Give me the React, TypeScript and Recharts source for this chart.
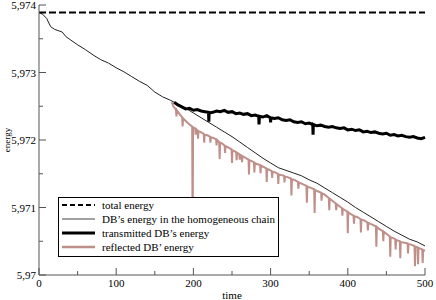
import { LineChart, Line, XAxis, YAxis, Legend } from "recharts"

const serif = "Liberation Serif"

// [time, energy]
const totalEnergy = [
  [0, 5.97389],
  [500, 5.97389],
]

const homogeneous = [
  [0, 5.97389], [5, 5.97386], [10, 5.9738], [15, 5.97368], [20, 5.97364], [30, 5.9736],
  [35, 5.97353], [40, 5.97349], [50, 5.97341], [60, 5.97334], [70, 5.97326], [80, 5.97319],
  [90, 5.97314], [100, 5.97307], [110, 5.97301], [120, 5.97294], [130, 5.97287], [140, 5.97281],
  [150, 5.97271], [160, 5.97264], [170, 5.97259], [180, 5.97253], [190, 5.97247], [200, 5.9724],
  [210, 5.97233], [220, 5.97226], [230, 5.97219], [240, 5.97212], [250, 5.97205], [260, 5.97197],
  [270, 5.97189], [280, 5.97181], [290, 5.97173], [300, 5.97166], [310, 5.97159], [320, 5.97155],
  [330, 5.97151], [340, 5.97147], [350, 5.97141], [360, 5.97136], [370, 5.97129], [380, 5.97122],
  [390, 5.97115], [400, 5.97108], [410, 5.971], [420, 5.97093], [430, 5.97086], [440, 5.97079],
  [450, 5.97072], [460, 5.97065], [470, 5.97059], [480, 5.97053], [490, 5.97049], [500, 5.97043],
]

const transmitted = [
  [175, 5.97256], [180, 5.97252], [185, 5.97249], [190, 5.97246], [195, 5.97247], [200, 5.97244],
  [205, 5.97245], [210, 5.97243], [215, 5.97242], [219.6, 5.97241], [220, 5.97227], [220.4, 5.9724],
  [225, 5.97241], [230, 5.97243], [235, 5.97242], [240, 5.97244], [245, 5.97241], [250, 5.97242],
  [255, 5.97239], [260, 5.9724], [265, 5.97238], [270, 5.97239], [275, 5.97236], [280, 5.97237],
  [284.6, 5.97235], [285, 5.97223], [285.6, 5.97235], [290, 5.97234], [295, 5.97236],
  [299.6, 5.97233], [300, 5.97226], [300.4, 5.97233], [305, 5.97232], [310, 5.97233],
  [315, 5.9723], [320, 5.97229], [325, 5.9723], [330, 5.97227], [335, 5.97226], [340, 5.97227],
  [345, 5.97224], [350, 5.97225], [354.6, 5.97223], [355, 5.97208], [355.4, 5.97223],
  [360, 5.97221], [365, 5.97222], [370, 5.9722], [375, 5.97219], [380, 5.9722], [385, 5.97218],
  [390, 5.97217], [395, 5.97218], [400, 5.97215], [405, 5.97216], [410, 5.97214], [415, 5.97215],
  [420, 5.97212], [425, 5.97213], [430, 5.97211], [435, 5.97212], [440, 5.9721], [445, 5.97209],
  [450, 5.9721], [455, 5.97207], [460, 5.97208], [465, 5.97206], [470, 5.97207], [475, 5.97205],
  [480, 5.97204], [485, 5.97205], [490, 5.97203], [495, 5.97202], [500, 5.97204],
]

const reflected = [
  [172, 5.97256], [174, 5.9725],
  [177.4, 5.97245], [178, 5.97235], [178.6, 5.97244], [183, 5.97237],
  [185.4, 5.97234], [186, 5.9722], [186.6, 5.97232], [191, 5.97227], [195, 5.97223],
  [198.4, 5.9722], [199, 5.9706], [199.6, 5.97219],
  [202.4, 5.97217], [203, 5.97208], [203.6, 5.97216],
  [205.4, 5.97214], [206, 5.97202], [206.6, 5.97213], [209, 5.97212],
  [213.4, 5.97209], [214, 5.97196], [214.6, 5.97208], [218, 5.97207],
  [221.4, 5.97205], [222, 5.97196], [222.6, 5.97204], [226, 5.97203],
  [229.4, 5.97201], [230, 5.97192], [230.6, 5.972],
  [233.4, 5.97197], [234, 5.97172], [234.6, 5.97196], [237, 5.97195],
  [240.4, 5.97192], [241, 5.97181], [241.6, 5.97191], [245, 5.97189],
  [249.4, 5.97186], [250, 5.97166], [250.6, 5.97185],
  [255.4, 5.97182], [256, 5.9717], [256.6, 5.97181],
  [259.4, 5.97179], [260, 5.97171], [260.6, 5.97178],
  [262.4, 5.97177], [263, 5.97167], [263.6, 5.97176], [267, 5.97174],
  [271.4, 5.97171], [272, 5.97149], [272.6, 5.9717], [275, 5.97169],
  [278.4, 5.97167], [279, 5.97152], [279.6, 5.97166], [283, 5.97164],
  [286.4, 5.97163], [287, 5.97151], [287.6, 5.97162], [291, 5.9716],
  [294.4, 5.97158], [295, 5.97138], [295.6, 5.97157], [298, 5.97156],
  [301.4, 5.97154], [302, 5.97144], [302.6, 5.97153], [306, 5.97152],
  [309.4, 5.9715], [310, 5.97135], [310.6, 5.97149], [314, 5.97148],
  [317.4, 5.97147], [318, 5.97137], [318.6, 5.97146], [322, 5.97145],
  [326.4, 5.97143], [327, 5.97118], [327.6, 5.97142], [331, 5.97141],
  [335.4, 5.97138], [336, 5.97128], [336.6, 5.97137], [341, 5.97135],
  [346.4, 5.97132], [347, 5.97107], [347.6, 5.97131], [352, 5.97129],
  [356.4, 5.97127], [357, 5.97092], [357.6, 5.97126], [361, 5.97124],
  [365.4, 5.97122], [366, 5.9711], [366.6, 5.97121], [370, 5.97119],
  [375.4, 5.97114], [376, 5.97096], [376.6, 5.97113], [380, 5.9711],
  [384.4, 5.97106], [385, 5.97096], [385.6, 5.97105], [390, 5.97101],
  [392.4, 5.97099], [393, 5.97088], [393.6, 5.97098], [395, 5.97097],
  [399.4, 5.97094], [400, 5.97062], [400.6, 5.97093], [404, 5.9709],
  [407.4, 5.97088], [408, 5.97076], [408.6, 5.97087], [412, 5.97086],
  [416.4, 5.97083], [417, 5.97063], [417.6, 5.97082], [421, 5.97081],
  [425.4, 5.97078], [426, 5.97066], [426.6, 5.97077], [431, 5.97075],
  [436.4, 5.97072], [437, 5.97042], [437.6, 5.97071], [441, 5.97068],
  [445.4, 5.97065], [446, 5.9705], [446.6, 5.97064], [450, 5.97061],
  [454.4, 5.97057], [455, 5.97027], [455.6, 5.97056], [458, 5.97055],
  [461.4, 5.97053], [462, 5.97038], [462.6, 5.97052], [465, 5.97051],
  [467.4, 5.9705], [468, 5.97025], [468.6, 5.97049], [472, 5.97048],
  [477.4, 5.97047], [478, 5.97032], [478.6, 5.97046], [482, 5.97045],
  [486.4, 5.97043], [487, 5.97013], [487.6, 5.97042],
  [490.4, 5.97041], [491, 5.97016], [491.6, 5.9704], [494, 5.97039],
  [496.4, 5.97038], [497, 5.97018], [497.6, 5.97037], [500, 5.97036],
]

const xTicks = [0, 50, 100, 150, 200, 250, 300, 350, 400, 450, 500]
const yTicks = [5.97, 5.9705, 5.971, 5.9715, 5.972, 5.9725, 5.973, 5.9735, 5.974]

const legendItems = [
  { label: "total energy", color: "#000", width: 2, dash: "5 3" },
  { label: "DB\u2019s energy in the homogeneous chain", color: "#444", width: 1, dash: undefined },
  { label: "transmitted DB\u2019s energy", color: "#000", width: 3, dash: undefined },
  { label: "reflected DB\u2019 energy", color: "#bf8f8a", width: 2.5, dash: undefined },
]

const toRows = (pts: number[][]) => pts.map(([t, e]) => ({ t, e }))

const isMajorX = (v: number) => v % 100 === 0
const isMajorY = (v: number) => Math.abs(v * 1000 - Math.round(v * 1000)) < 1e-6
const fmtY = (v: number) => String(parseFloat(v.toFixed(3))).replace(".", ",")

const frame = "#555"

const BottomTick = ({ x, y, payload }: any) => {
  const major = isMajorX(payload.value)
  return (
    <g>
      <line x1={x} x2={x} y1={y} y2={y - (major ? 7 : 4)} stroke={frame} />
      {major && (
        <text x={x} y={y + 12} textAnchor="middle" fontSize={11} fontFamily={serif} fill="#000">
          {payload.value}
        </text>
      )}
    </g>
  )
}

const TopTick = ({ x, y, payload }: any) => (
  <line x1={x} x2={x} y1={y} y2={y + (isMajorX(payload.value) ? 7 : 4)} stroke={frame} />
)

const LeftTick = ({ x, y, payload }: any) => {
  const major = isMajorY(payload.value)
  return (
    <g>
      <line x1={x} x2={x + (major ? 7 : 4)} y1={y} y2={y} stroke={frame} />
      {major && (
        <text x={x - 3} y={y + 4} textAnchor="end" fontSize={11} fontFamily={serif} fill="#000">
          {fmtY(payload.value)}
        </text>
      )}
    </g>
  )
}

const RightTick = ({ x, y, payload }: any) => (
  <line x1={x} x2={x - (isMajorY(payload.value) ? 7 : 4)} y1={y} y2={y} stroke={frame} />
)

const renderLegend = () => (
  <svg width={221} height={60} style={{ display: "block" }}>
    <rect x={0.5} y={0.5} width={220} height={59} fill="#fff" stroke="#000" />
    {legendItems.map((item, i) => (
      <g key={item.label}>
        <line
          x1={4}
          x2={37}
          y1={8 + i * 14}
          y2={8 + i * 14}
          stroke={item.color}
          strokeWidth={item.width}
          strokeDasharray={item.dash}
        />
        <text x={44} y={12 + i * 14} fontSize={11} fontFamily={serif} fill="#000">
          {item.label}
        </text>
      </g>
    ))}
  </svg>
)

export default function App() {
  return (
    <div style={{ position: "absolute", left: 0, top: 0, width: 436, height: 300, background: "#fff" }}>
      <LineChart width={436} height={300} margin={{ top: 5, right: 11, bottom: 0, left: 0 }}>
        <XAxis
          dataKey="t"
          type="number"
          domain={[0, 500]}
          ticks={xTicks}
          interval={0}
          height={25}
          stroke={frame}
          tickLine={false}
          tickSize={0}
          tickMargin={0}
          tick={<BottomTick />}
          label={{ value: "time", position: "insideBottom", offset: 1, fontSize: 11, fontFamily: serif, fill: "#000" }}
        />
        <XAxis
          xAxisId="top"
          orientation="top"
          dataKey="t"
          type="number"
          domain={[0, 500]}
          ticks={xTicks}
          interval={0}
          height={0}
          stroke={frame}
          tickLine={false}
          tickSize={0}
          tickMargin={0}
          tick={<TopTick />}
        />
        <YAxis
          type="number"
          domain={[5.97, 5.974]}
          ticks={yTicks}
          interval={0}
          width={39}
          stroke={frame}
          tickLine={false}
          tickSize={0}
          tickMargin={0}
          tick={<LeftTick />}
          label={{
            value: "energy",
            angle: -90,
            position: "insideLeft",
            offset: 7,
            fontSize: 9,
            fontFamily: serif,
            fill: "#000",
            style: { textAnchor: "middle" },
          }}
        />
        <YAxis
          yAxisId="right"
          orientation="right"
          type="number"
          domain={[5.97, 5.974]}
          ticks={yTicks}
          interval={0}
          width={0}
          stroke={frame}
          tickLine={false}
          tickSize={0}
          tickMargin={0}
          tick={<RightTick />}
        />
        <Line
          data={toRows(reflected)}
          dataKey="e"
          type="linear"
          stroke="#bf8f8a"
          strokeWidth={2}
          dot={false}
          isAnimationActive={false}
        />
        <Line
          data={toRows(homogeneous)}
          dataKey="e"
          type="linear"
          stroke="#222"
          strokeWidth={1}
          dot={false}
          isAnimationActive={false}
        />
        <Line
          data={toRows(transmitted)}
          dataKey="e"
          type="linear"
          stroke="#000"
          strokeWidth={3}
          dot={false}
          isAnimationActive={false}
        />
        <Line
          data={toRows(totalEnergy)}
          dataKey="e"
          type="linear"
          stroke="#000"
          strokeWidth={2}
          strokeDasharray="7 3"
          dot={false}
          isAnimationActive={false}
        />
        <Legend
          layout="vertical"
          align="center"
          verticalAlign="middle"
          content={renderLegend}
          wrapperStyle={{ position: "absolute", left: 58, top: 197, width: 221, height: 60 }}
        />
      </LineChart>
    </div>
  )
}
